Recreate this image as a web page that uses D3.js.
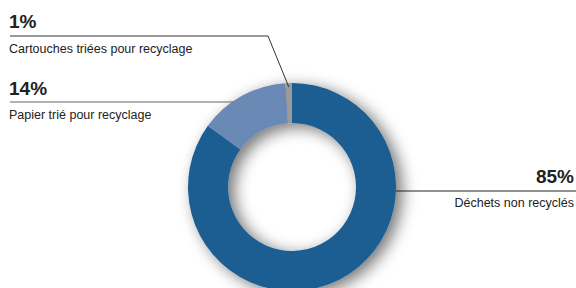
<!DOCTYPE html>
<html><head><meta charset="utf-8">
<script src="https://cdn.jsdelivr.net/npm/d3@7"></script>
<style>body{margin:0;background:#fff}svg{display:block}text{font-family:"Liberation Sans",Arial,sans-serif}</style>
</head><body>
<script>
const categories = ["Déchets non recyclés", "Papier trié pour recyclage", "Cartouches triées pour recyclage"];
const values = [85, 14, 1];
const labels = ["85%", "14%", "1%"];
const colors = ["#1b5d92", "#6a89b4", "#9a9a9a"];

const W = 576, H = 288;
const svg = d3.select("body").append("svg").attr("width", W).attr("height", H);
const defs = svg.append("defs");
const f = defs.append("filter").attr("id","sh").attr("x","-30%").attr("y","-30%").attr("width","160%").attr("height","160%");
f.append("feGaussianBlur").attr("in","SourceAlpha").attr("stdDeviation",8);
f.append("feOffset").attr("dx",6).attr("dy",4).attr("result","b");
f.append("feComponentTransfer").append("feFuncA").attr("type","linear").attr("slope",0.55);
const m = f.append("feMerge"); m.append("feMergeNode"); m.append("feMergeNode").attr("in","SourceGraphic");

const cx = 292, cy = 187, R = 104, r = 64;
const pie = d3.pie().sort(null).value(d => d)(values);
const arc = d3.arc().innerRadius(r).outerRadius(R);
const g = svg.append("g").attr("transform", `translate(${cx},${cy})`);
const ring = g.append("g").attr("filter","url(#sh)");
ring.selectAll("path").data(pie).join("path").attr("d", arc).attr("fill", (d,i) => colors[i]);

// leader lines
const lines = svg.append("g").attr("fill","none");
lines.append("path").attr("d", d3.line()([[cx+R, 191],[W,191]])).attr("stroke","#222").attr("stroke-width",1);
lines.append("path").attr("d", d3.line()([[10,102],[233,102]])).attr("stroke","#666").attr("stroke-width",1);
const mid2 = (pie[2].startAngle + pie[2].endAngle)/2;
const px = cx + Math.sin(mid2)*(R-4), py = cy - Math.cos(mid2)*(R-4);
lines.append("path").attr("d", d3.line()([[10,36],[268,36],[px,py]])).attr("stroke","#333").attr("stroke-width",1);

const t = svg.append("g").attr("fill","#222");
t.append("text").attr("x",9).attr("y",28).attr("font-size",19).attr("font-weight","bold").text(labels[2]);
t.append("text").attr("x",9).attr("y",53).attr("font-size",12.5).text(categories[2]);
t.append("text").attr("x",9).attr("y",95).attr("font-size",19).attr("font-weight","bold").text(labels[1]);
t.append("text").attr("x",9).attr("y",119).attr("font-size",12.5).text(categories[1]);
t.append("text").attr("x",574).attr("y",183).attr("font-size",19).attr("font-weight","bold").attr("text-anchor","end").text(labels[0]);
t.append("text").attr("x",574).attr("y",207).attr("font-size",12.5).attr("text-anchor","end").text(categories[0]);
</script>
</body></html>
